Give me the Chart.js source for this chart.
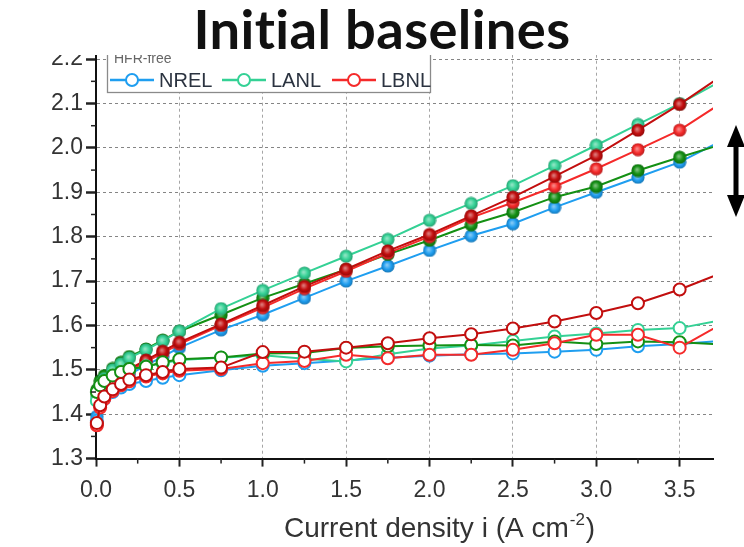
<!DOCTYPE html>
<html><head><meta charset="utf-8">
<script src="https://cdn.jsdelivr.net/npm/chart.js@4.4.0/dist/chart.umd.min.js"></script>
<style>html,body{margin:0;padding:0;background:#fff;}canvas{display:block;}</style>
</head><body>
<canvas id="c" width="744" height="547"></canvas>
<script>
// ---- data ----
const currents = [0.005,0.025,0.05,0.1,0.15,0.2,0.3,0.4,0.5,0.75,1.0,1.25,1.5,1.75,2.0,2.25,2.5,2.75,3.0,3.25,3.5,3.75];
// cell voltages (filled markers)
const nrelCell   = [1.395,1.425,1.44,1.46,1.476,1.49,1.51,1.53,1.55,1.59,1.624,1.662,1.700,1.734,1.769,1.802,1.829,1.866,1.900,1.934,1.968,2.016];
const lanlCell   = [1.44,1.465,1.48,1.50,1.513,1.527,1.545,1.565,1.587,1.638,1.679,1.718,1.756,1.794,1.837,1.875,1.915,1.960,2.006,2.053,2.100,2.151];
const lanlCell2  = [1.455,1.475,1.487,1.503,1.517,1.530,1.547,1.567,1.587,1.624,1.662,1.694,1.726,1.760,1.792,1.827,1.855,1.889,1.913,1.949,1.979,2.008];
const lbnlCell   = [1.38,1.425,1.45,1.473,1.488,1.502,1.522,1.542,1.562,1.603,1.645,1.688,1.727,1.768,1.805,1.847,1.889,1.936,1.983,2.040,2.098,2.162];
const lbnlCell2  = [1.375,1.42,1.445,1.47,1.485,1.498,1.518,1.538,1.558,1.600,1.640,1.683,1.722,1.763,1.800,1.843,1.877,1.913,1.953,1.996,2.040,2.101];
// HFR-free voltages (open markers)
const nrelHfr    = [1.385,1.42,1.435,1.45,1.46,1.468,1.475,1.482,1.488,1.499,1.509,1.515,1.521,1.527,1.532,1.535,1.537,1.541,1.545,1.553,1.558,1.565];
const lanlHfr    = [1.43,1.455,1.465,1.48,1.49,1.50,1.508,1.515,1.522,1.527,1.533,1.525,1.519,1.535,1.548,1.555,1.565,1.575,1.582,1.590,1.594,1.612];
const lanlHfr2   = [1.45,1.465,1.475,1.487,1.495,1.502,1.507,1.517,1.524,1.528,1.537,1.538,1.549,1.553,1.555,1.556,1.555,1.564,1.558,1.564,1.562,1.557];
const lbnlHfr    = [1.38,1.42,1.44,1.456,1.468,1.478,1.488,1.495,1.502,1.505,1.540,1.541,1.550,1.560,1.571,1.580,1.593,1.609,1.628,1.650,1.681,1.718];
const lbnlHfr2   = [1.375,1.415,1.435,1.452,1.465,1.474,1.485,1.492,1.498,1.502,1.515,1.520,1.534,1.526,1.534,1.534,1.545,1.560,1.579,1.579,1.550,1.603];
// ticks / texts
const xMinorTicks = [0.25,0.75,1.25,1.75,2.25,2.75,3.25];
const yMinorTicks = [1.35,1.45,1.55,1.65,1.75,1.85,1.95,2.05,2.15];
const legendLabels = ['NREL','LANL','LBNL'];
const legendHeader = 'HFR-free';
const chartTitle = 'Initial baselines';
const xTitleMain = 'Current density i (A cm';
const xTitleSup = '-2';
const xTitleEnd = ')';

// ---- styles ----
const C = {blue:'#1f9ef0', teal:'#34d195', red:'#f52a2a', dred:'#c20e0e', dgreen:'#149014'};
function shade(hex, f){
  const n = parseInt(hex.slice(1),16); let r=n>>16, g=(n>>8)&255, b=n&255;
  if (f>0){ r+= (255-r)*f; g+=(255-g)*f; b+=(255-b)*f; } else { r*=1+f; g*=1+f; b*=1+f; }
  return `rgb(${r|0},${g|0},${b|0})`;
}
function ball(col){
  const cv = document.createElement('canvas'); cv.width = 14; cv.height = 14;
  const g = cv.getContext('2d');
  const gr = g.createRadialGradient(6,6,0.5,7,7,6.8);
  gr.addColorStop(0, shade(col,0.45)); gr.addColorStop(0.55, col); gr.addColorStop(1, shade(col,-0.25));
  g.fillStyle = gr; g.beginPath(); g.arc(7,7,6.6,0,Math.PI*2); g.fill();
  return cv;
}
function pts(vals){ return currents.map((x,i)=>({x:x,y:vals[i]})); }
const clipBox = {left:8,right:0,top:0,bottom:0};
function filled(label, vals, col){
  return {label, data:pts(vals), borderColor:col, backgroundColor:col, borderWidth:2,
    pointStyle:ball(col), pointRadius:6, tension:0, clip:clipBox};
}
function open(label, vals, col){
  return {label, data:pts(vals), borderColor:col, backgroundColor:'#fff', borderWidth:2,
    pointRadius:6, pointBorderWidth:2, pointBorderColor:col, pointBackgroundColor:'#fff', tension:0, clip:clipBox};
}
const datasets = [
  open('LBNL HFR-free', lbnlHfr, C.dred),
  open('LBNL HFR-free 2', lbnlHfr2, C.red),
  open('LANL HFR-free 2', lanlHfr2, C.dgreen),
  open('LANL HFR-free', lanlHfr, C.teal),
  open('NREL HFR-free', nrelHfr, C.blue),
  filled('LBNL', lbnlCell, C.dred),
  filled('LANL', lanlCell, C.teal),
  filled('LBNL 2', lbnlCell2, C.red),
  filled('LANL 2', lanlCell2, C.dgreen),
  filled('NREL', nrelCell, C.blue)
];

const overlay = {
  id:'overlay',
  afterDraw(chart){
    const ctx = chart.ctx, x = chart.scales.x, y = chart.scales.y;
    ctx.save();
    // minor ticks
    ctx.strokeStyle = '#222'; ctx.lineWidth = 1.5;
    xMinorTicks.forEach(v=>{ const p = x.getPixelForValue(v); ctx.beginPath(); ctx.moveTo(p, x.top); ctx.lineTo(p, x.top+5); ctx.stroke(); });
    yMinorTicks.forEach(v=>{ const p = y.getPixelForValue(v); ctx.beginPath(); ctx.moveTo(y.right, p); ctx.lineTo(y.right-5, p); ctx.stroke(); });
    // legend box
    const lx0 = 107, lx1 = 430, ly0 = 38, ly1 = 92;
    ctx.fillStyle = '#fff'; ctx.fillRect(lx0, ly0, lx1-lx0, ly1-ly0);
    ctx.strokeStyle = '#8a8a8a'; ctx.lineWidth = 1.3; ctx.strokeRect(lx0+0.5, ly0+0.5, lx1-lx0, ly1-ly0);
    ctx.font = '14px "Liberation Sans"'; ctx.fillStyle = '#666'; ctx.textBaseline = 'alphabetic'; ctx.textAlign = 'left';
    ctx.fillText(legendHeader, 114, 63);
    const legCols = [C.blue, C.teal, C.red];
    const legX = [110, 222, 332];
    ctx.font = '20px "Liberation Sans"'; ctx.textBaseline = 'middle';
    legendLabels.forEach((t,i)=>{
      const x0 = legX[i], yy = 80;
      ctx.strokeStyle = legCols[i]; ctx.lineWidth = 2.5;
      ctx.beginPath(); ctx.moveTo(x0, yy); ctx.lineTo(x0+44, yy); ctx.stroke();
      ctx.beginPath(); ctx.arc(x0+22, yy, 6, 0, Math.PI*2); ctx.fillStyle = '#fff'; ctx.fill(); ctx.lineWidth = 2; ctx.stroke();
      ctx.fillStyle = '#2b3340'; ctx.fillText(t, x0+49, yy+1);
    });
    // white band behind the title
    ctx.fillStyle = '#fff'; ctx.fillRect(0, 0, chart.width, 55);
    // title
    try { ctx.letterSpacing = '0.4px'; } catch(e) {}
    let fs = 48; ctx.font = `bold ${fs}px Lato`;
    const w = ctx.measureText(chartTitle).width; fs = fs*378/w;
    ctx.font = `bold ${fs}px Lato`; ctx.fillStyle = '#111'; ctx.textAlign = 'center'; ctx.textBaseline = 'alphabetic';
    ctx.fillText(chartTitle, 382, 49);
    try { ctx.letterSpacing = '0px'; } catch(e) {}
    // x axis title with superscript
    ctx.textAlign = 'left'; ctx.fillStyle = '#333';
    ctx.font = '28px "Liberation Sans"';
    let tx = 284; const ty = 537;
    ctx.fillText(xTitleMain, tx, ty); tx += ctx.measureText(xTitleMain).width + 1;
    ctx.font = '17px "Liberation Sans"'; ctx.fillText(xTitleSup, tx, ty-12); tx += ctx.measureText(xTitleSup).width + 1;
    ctx.font = '28px "Liberation Sans"'; ctx.fillText(xTitleEnd, tx, ty);
    // double-headed arrow
    const ax = 736, at = 125, ab = 217;
    ctx.fillStyle = '#000';
    ctx.beginPath(); ctx.moveTo(ax, at); ctx.lineTo(ax+9, at+22); ctx.lineTo(ax-9, at+22); ctx.closePath(); ctx.fill();
    ctx.beginPath(); ctx.moveTo(ax, ab); ctx.lineTo(ax+9, ab-22); ctx.lineTo(ax-9, ab-22); ctx.closePath(); ctx.fill();
    ctx.fillRect(ax-2.5, at+20, 5, ab-at-40);
    ctx.restore();
  }
};

new Chart(document.getElementById('c'), {
  type:'line',
  data:{datasets},
  options:{
    responsive:false, animation:false, devicePixelRatio:1,
    layout:{padding:{top:54.7, right:31, left:0, bottom:0}},
    plugins:{legend:{display:false}, tooltip:{enabled:false}, title:{display:false}},
    scales:{
      x:{type:'linear', min:0, max:3.7,
        afterFit:s=>{ s.height = 547-458.6; },
        ticks:{stepSize:0.5, includeBounds:false, padding:10, color:'#333', font:{family:'Liberation Sans', size:23},
          callback:v=>Number(v).toFixed(1), maxRotation:0},
        grid:{color:'#a5a5a5', lineWidth:1, tickLength:8, tickColor:'#222', tickWidth:2},
        border:{display:true, color:'#111', width:2, dash:[3,3]}
      },
      y:{type:'linear', min:1.3, max:2.21,
        afterFit:s=>{ s.width = 96; },
        ticks:{stepSize:0.1, includeBounds:false, padding:3, color:'#333', font:{family:'Liberation Sans', size:23},
          callback:v=>Number(v).toFixed(1)},
        grid:{color:'#858585', lineWidth:1, tickLength:10, tickColor:'#222', tickWidth:2.5},
        border:{display:true, color:'#111', width:2, dash:[3,3]}
      }
    }
  },
  plugins:[overlay]
});
</script>
</body></html>
